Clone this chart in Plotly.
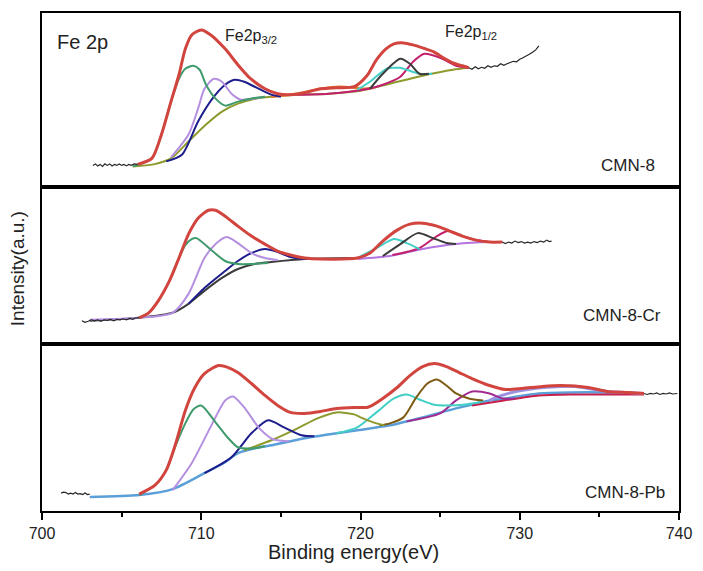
import plotly.graph_objects as go
from plotly.subplots import make_subplots

# ---------------- data (binding energy eV, intensity a.u.) ----------------
# Panel 1: CMN-8
top_raw_left = [(703.2, 22), (703.35, 23.5), (703.5, 21.5), (703.65, 23), (703.8, 21), (703.95, 23.5),
                (704.1, 22), (704.25, 23.5), (704.4, 21.5), (704.55, 23), (704.7, 22), (704.85, 23.5),
                (705.0, 22), (705.15, 23), (705.3, 21.5), (705.45, 23), (705.6, 22), (705.8, 23.5), (706.0, 23)]
top_raw_right = [(726.8, 120), (727.0, 118.5), (727.2, 121), (727.4, 119), (727.6, 120.5), (727.8, 119.5),
                 (728.0, 122), (728.2, 120.5), (728.4, 122), (728.6, 121.5), (728.8, 124), (729.0, 122.5),
                 (729.2, 124), (729.4, 125.5), (729.6, 126.5), (729.8, 126), (730.0, 128.5), (730.2, 130),
                 (730.4, 131.5), (730.6, 133.5), (730.8, 135.5), (731.0, 138), (731.2, 142)]
top_bg = [(705.7, 21), (707.0, 23), (708.1, 29), (709.2, 46), (710.3, 63), (711.3, 76), (712.3, 84),
          (713.4, 89), (714.4, 91), (716.0, 93), (718.0, 94), (720.0, 97), (721.6, 103), (723.9, 112),
          (725.8, 118), (726.8, 120)]
top_green = [(705.7, 21), (706.9, 29), (707.5, 53), (708.1, 86), (708.6, 109), (709.0, 119), (709.5, 122),
             (709.9, 118), (710.3, 103), (710.9, 89), (711.5, 82), (712.3, 86), (713.1, 89), (714.0, 91)]
top_lav = [(708.1, 30), (709.2, 53), (709.8, 79), (710.2, 99), (710.8, 109), (711.3, 106), (711.9, 94),
           (712.5, 88), (713.2, 89), (714.0, 91)]
top_navy = [(707.8, 26), (708.8, 33), (709.8, 66), (710.7, 89), (711.5, 103), (712.1, 108), (712.7, 106),
            (713.6, 99), (714.4, 93), (715.0, 91)]
top_orange = [(714.4, 91), (716.0, 94), (717.5, 99), (718.7, 101), (719.6, 100), (720.2, 99), (720.8, 100)]
top_cyan = [(719.8, 98), (720.6, 106), (721.65, 119), (722.5, 120), (722.9, 118), (723.7, 114), (724.5, 114)]
top_gray = [(720.6, 99), (721.4, 114), (722.5, 129), (723.1, 124), (723.7, 114), (724.3, 114)]
top_mag = [(716.0, 93), (718.0, 94), (720.5, 99), (721.4, 103), (722.5, 111), (723.3, 126), (724.0, 134),
           (725.0, 130), (726.0, 122), (726.8, 120)]
top_env = [(706.0, 23), (706.9, 29), (707.5, 53), (708.1, 86), (708.6, 113), (709.0, 139), (709.4, 153),
           (710.0, 158), (710.6, 153), (711.5, 139), (712.3, 123), (713.1, 109), (714.0, 99), (714.8, 94),
           (715.6, 93), (716.5, 95), (717.5, 99), (718.5, 100), (719.6, 101), (720.4, 112), (721.0, 128),
           (721.6, 139), (722.1, 144), (722.7, 145), (723.3, 143), (723.9, 140), (724.6, 136), (725.2, 130),
           (725.8, 125), (726.4, 122), (726.8, 120)]

# Panel 2: CMN-8-Cr
mid_raw_left = [(702.5, 23), (702.7, 21.5), (702.9, 22.5), (703.1, 24), (703.3, 23), (703.5, 24),
                (703.7, 22.5), (703.9, 24), (704.1, 23.5), (704.3, 24.5), (704.5, 23), (704.7, 24.5),
                (704.9, 24), (705.1, 25), (705.3, 24), (705.5, 25.5), (705.7, 24.5), (705.9, 26), (706.1, 26)]
mid_raw_right = [(728.9, 102), (729.1, 100.5), (729.3, 102), (729.5, 101), (729.7, 103), (729.9, 101.5),
                 (730.1, 102.5), (730.3, 101), (730.5, 102), (730.7, 101), (730.9, 102.5), (731.1, 101.5),
                 (731.3, 103), (731.5, 102), (731.7, 104), (731.85, 102.5), (732.0, 103)]
mid_bg = [(703.0, 23), (706.1, 26), (708.2, 31), (709.2, 40), (710.2, 53), (711.3, 66), (712.3, 75),
          (713.35, 80), (714.4, 82), (716.5, 85), (719.8, 86)]
mid_bg2 = [(719.8, 85), (721.85, 88), (723.9, 95), (726.0, 100), (728.1, 102), (728.9, 102)]
mid_green = [(706.1, 26), (706.7, 31), (707.3, 43), (708.0, 63), (708.6, 86), (709.0, 99), (709.4, 105),
             (709.7, 106), (710.7, 93), (711.5, 83), (712.3, 80), (713.15, 80), (714.2, 81)]
mid_lav = [(703.0, 24), (706.1, 26), (708.2, 31), (709.2, 50), (710.2, 86), (710.9, 100), (711.6, 107),
           (712.3, 101), (713.15, 91), (714.0, 86), (714.8, 84)]
mid_navy = [(709.2, 40), (710.2, 56), (711.5, 73), (712.3, 83), (713.15, 91), (714.0, 95), (714.8, 92),
            (715.6, 87), (716.5, 85)]
mid_cyan = [(719.8, 86), (721.0, 96), (722.1, 105), (722.9, 101), (723.7, 95)]
mid_gray = [(721.4, 88), (722.5, 100), (723.6, 111), (724.55, 106), (725.4, 101), (726.0, 100)]
mid_mag = [(722.0, 89), (723.7, 96), (724.8, 108), (725.5, 113), (726.4, 108), (727.25, 104), (728.1, 102)]
mid_env = [(706.1, 26), (706.7, 31), (707.3, 43), (708.0, 63), (708.6, 86), (709.2, 110), (709.8, 126),
           (710.45, 134), (710.9, 134), (711.5, 128), (712.3, 118), (713.15, 108), (714.0, 100),
           (714.8, 93), (715.6, 89), (716.5, 86), (717.5, 85), (719.8, 86), (720.6, 91), (721.4, 103),
           (722.3, 114), (723.1, 120), (723.9, 121), (724.8, 118), (725.6, 113), (726.4, 108),
           (727.25, 104), (728.1, 102), (728.9, 102)]

# Panel 3: CMN-8-Pb
bot_raw_left = [(701.2, 18), (701.35, 19), (701.5, 18.5), (701.65, 17), (701.8, 18), (701.95, 17),
                (702.1, 18.5), (702.25, 17), (702.4, 17.5), (702.55, 16.5), (702.7, 18), (702.85, 16.5),
                (703.0, 17)]
bot_raw_right = [(737.8, 118), (738.0, 117), (738.2, 118), (738.4, 117.5), (738.6, 118.5), (738.8, 117),
                 (739.0, 118), (739.2, 117.5), (739.4, 118.5), (739.6, 117.5), (739.9, 118)]
bot_bg = [(703.0, 14), (706.1, 16), (708.2, 22), (710.2, 38), (711.5, 49), (712.3, 58), (713.35, 63),
          (714.4, 66), (716.5, 73), (718.5, 78), (719.8, 81), (721.85, 86), (723.9, 94), (726.0, 103),
          (728.1, 111), (729.1, 113), (731.2, 118), (733.3, 119), (735.3, 119), (737.8, 118)]
bot_green = [(706.1, 16), (707.1, 26), (707.8, 41), (708.4, 66), (709.0, 88), (709.5, 102), (710.0, 106),
             (710.9, 89), (711.7, 73), (712.3, 64), (713.35, 63), (714.0, 65)]
bot_lav = [(708.2, 21), (709.4, 48), (710.7, 88), (711.5, 111), (712.0, 115), (712.7, 104), (713.6, 84),
           (714.4, 73), (714.8, 71), (715.5, 70)]
bot_navy = [(710.2, 38), (711.9, 54), (713.15, 78), (714.2, 91), (715.2, 84), (716.3, 76), (717.1, 75)]
bot_olive = [(712.7, 61), (714.4, 71), (716.05, 83), (717.3, 93), (718.5, 99), (719.6, 97), (720.0, 94),
             (720.8, 89), (721.5, 86)]
bot_brown = [(721.2, 86), (721.85, 88), (722.7, 94), (723.5, 114), (724.2, 128), (724.8, 132), (725.4, 126),
             (726.0, 118), (726.8, 113), (727.7, 111)]
bot_cyan = [(718.5, 78), (719.8, 84), (721.0, 99), (722.1, 113), (722.9, 117), (723.7, 112), (724.55, 107),
            (725.4, 106), (726.6, 107), (727.7, 110)]
bot_mag = [(722.9, 90), (725.0, 98), (726.0, 111), (727.0, 120), (728.1, 118), (728.9, 113), (729.7, 113)]
bot_crimson = [(727.0, 106), (729.0, 111), (731.2, 116), (733.3, 117), (735.3, 117), (737.8, 117)]
bot_hump = [(728.1, 111), (728.5, 114), (729.5, 119), (730.5, 122), (731.5, 124), (732.6, 125),
            (733.5, 125), (734.3, 123), (735.5, 120), (736.8, 119), (737.8, 118)]
bot_env = [(706.1, 17), (707.1, 26), (707.8, 41), (708.4, 68), (709.0, 101), (709.6, 124), (710.2, 138),
           (711.1, 146), (711.7, 144), (712.3, 139), (713.15, 128), (714.0, 116), (714.8, 106),
           (715.6, 99), (716.5, 98), (717.5, 100), (718.5, 103), (719.6, 104), (720.4, 104), (720.6, 105),
           (721.4, 113), (722.3, 124), (723.1, 136), (723.9, 145), (724.65, 148), (725.4, 145),
           (726.2, 139), (727.0, 133), (728.1, 126), (729.1, 122), (730.15, 123), (731.4, 125),
           (732.6, 126), (734.3, 124), (735.5, 120), (736.8, 119), (737.8, 118)]

panel_heights = [175, 157, 168]
x_ticks = [700, 710, 720, 730, 740]
sample_labels = ["CMN-8", "CMN-8-Cr", "CMN-8-Pb"]

# ---------------- colours ----------------
C_RAW = "#262626"
C_ENV = "#d2453f"
C_GREEN = "#3f9a6c"
C_LAV = "#b58fe0"
C_NAVY = "#1d1d8c"
C_OLIVE = "#8e9a2e"
C_ORANGE = "#e27a2c"
C_CYAN = "#42cfc6"
C_GRAY = "#3c3c3c"
C_MAG = "#c21f6c"
C_LILAC = "#b374e0"
C_BLUE = "#5b9fd8"
C_BROWN = "#7e5b14"
C_PURPLE = "#a12b90"
C_CRIMSON = "#c8204c"
C_HUMP = "#9d92e2"

fig = make_subplots(rows=3, cols=1, shared_xaxes=True, vertical_spacing=0,
                    row_heights=panel_heights)


def add(pts, color, row, width=2.0, shape="spline"):
    xs = [p[0] for p in pts]
    ys = [p[1] for p in pts]
    line = dict(color=color, width=width, shape=shape)
    if shape == "spline":
        line["smoothing"] = 0.7
    fig.add_trace(go.Scatter(x=xs, y=ys, mode="lines", line=line, hoverinfo="skip"), row=row, col=1)


def add_raw(pts, row):
    add(pts, C_RAW, row, 1.2, "linear")


# top
add(top_bg, C_OLIVE, 1)
add(top_orange, C_ORANGE, 1, 2.5)
add(top_mag, C_MAG, 1)
add(top_cyan, C_CYAN, 1)
add(top_gray, C_GRAY, 1)
add(top_navy, C_NAVY, 1)
add(top_lav, C_LAV, 1)
add(top_green, C_GREEN, 1)
add(top_env, C_ENV, 1, 3)
add_raw(top_raw_left, 1)
add_raw(top_raw_right, 1)

# middle
add(mid_bg, C_GRAY, 2)
add(mid_bg2, C_LILAC, 2)
add(mid_mag, C_MAG, 2)
add(mid_cyan, C_CYAN, 2)
add(mid_gray, C_GRAY, 2)
add(mid_navy, C_NAVY, 2)
add(mid_lav, C_LAV, 2)
add(mid_green, C_GREEN, 2)
add(mid_env, C_ENV, 2, 3)
add_raw(mid_raw_left, 2)
add_raw(mid_raw_right, 2)

# bottom
add(bot_bg, C_BLUE, 3, 2.5)
add(bot_crimson, C_CRIMSON, 3)
add(bot_hump, C_HUMP, 3, 3)
add(bot_mag, C_PURPLE, 3)
add(bot_cyan, C_CYAN, 3)
add(bot_brown, C_BROWN, 3)
add(bot_olive, C_OLIVE, 3)
add(bot_navy, C_NAVY, 3)
add(bot_lav, C_LAV, 3)
add(bot_green, C_GREEN, 3)
add(bot_env, C_ENV, 3, 3)
add_raw(bot_raw_left, 3)
add_raw(bot_raw_right, 3)

FONT = "Liberation Sans, Arial, sans-serif"

for i in range(1, 4):
    fig.update_xaxes(range=[700, 740], showline=True, linecolor="black", linewidth=2, mirror=True,
                     showgrid=False, zeroline=False, row=i, col=1)
    fig.update_yaxes(range=[0, panel_heights[i - 1]], showline=True, linecolor="black", linewidth=2,
                     mirror=True, showgrid=False, zeroline=False, showticklabels=False, ticks="",
                     row=i, col=1)
    if i < 3:
        fig.update_xaxes(ticks="", showticklabels=False, row=i, col=1)

fig.update_xaxes(ticks="outside", ticklen=7, tickwidth=1.5, tickcolor="black",
                 tickvals=x_ticks, ticktext=[str(t) for t in x_ticks], showticklabels=True,
                 tickfont=dict(family=FONT, size=16, color="#222"),
                 minor=dict(ticks="outside", ticklen=4, tickwidth=1.5, tickcolor="black", dtick=5,
                            tick0=700, showgrid=False),
                 row=3, col=1)

L, R, T, B = 42, 18, 11, 60
W, H = 703, 571
pw, ph = W - L - R, H - T - B


def px(xp):
    return (xp - L) / pw


def py(yp):
    return (H - B - yp) / ph


ann = [
    dict(text="Fe 2p", x=px(55), y=py(40), xanchor="left", yanchor="middle", font=dict(size=20)),
    dict(text="Fe2p<sub>3/2</sub>", x=px(225), y=py(35), xanchor="left", yanchor="middle", font=dict(size=16)),
    dict(text="Fe2p<sub>1/2</sub>", x=px(447), y=py(31), xanchor="left", yanchor="middle", font=dict(size=16)),
    dict(text=sample_labels[0], x=px(663), y=py(164), xanchor="right", yanchor="middle", font=dict(size=17)),
    dict(text=sample_labels[1], x=px(669), y=py(315), xanchor="right", yanchor="middle", font=dict(size=17)),
    dict(text=sample_labels[2], x=px(673), y=py(492), xanchor="right", yanchor="middle", font=dict(size=17)),
    dict(text="Intensity(a.u.)", x=px(18), y=py(268), xanchor="center", yanchor="middle", textangle=-90,
         font=dict(size=19)),
    dict(text="Binding energy(eV)", x=px(356), y=py(552), xanchor="center", yanchor="middle",
         font=dict(size=20)),
]
for a in ann:
    a.update(xref="paper", yref="paper", showarrow=False)
    a["font"].update(family=FONT, color="#222")

fig.update_layout(width=W, height=H, margin=dict(l=L, r=R, t=T, b=B), paper_bgcolor="white",
                  plot_bgcolor="white", showlegend=False, annotations=ann)

fig.write_html("out.html")
